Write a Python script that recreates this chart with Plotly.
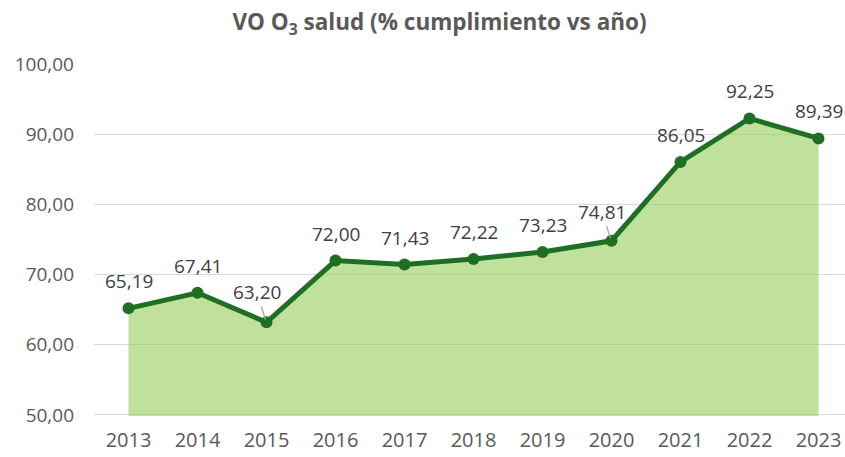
import plotly.graph_objects as go

years = [2013, 2014, 2015, 2016, 2017, 2018, 2019, 2020, 2021, 2022, 2023]
values = [65.19, 67.41, 63.20, 72.00, 71.43, 72.22, 73.23, 74.81, 86.05, 92.25, 89.39]
y_ticks = [50, 60, 70, 80, 90, 100]

title_text = "VO O<sub>3</sub> salud (% cumplimiento vs año)"

LINE = "#1e6e24"
FILL = "rgba(150,205,90,0.6)"
TXT = "#595959"
LBL = "#404040"
FONT = "Open Sans"

# label placement (pixel offsets) for points whose label uses a leader line
leader = {2015: (-10, -30), 2020: (-10, -29)}

fig = go.Figure()
fig.add_trace(go.Scatter(
    x=years, y=values, mode="lines+markers",
    line=dict(color=LINE, width=5),
    marker=dict(color=LINE, size=12),
    fill="tozeroy", fillcolor=FILL,
    hoverinfo="skip", showlegend=False,
))

for yr, v in zip(years, values):
    txt = f"{v:.2f}".replace(".", ",")
    if yr in leader:
        ax, ay = leader[yr]
        fig.add_annotation(x=yr, y=v, text=txt, showarrow=True,
                           ax=ax, ay=ay, arrowhead=0, arrowwidth=1.3,
                           arrowcolor="#a6a6a6", standoff=3, startstandoff=0,
                           font=dict(family=FONT, size=19, color=LBL))
    else:
        fig.add_annotation(x=yr, y=v, text=txt, showarrow=False,
                           yshift=27, font=dict(family=FONT, size=19, color=LBL))

fig.update_layout(
    width=845, height=457,
    margin=dict(l=94, r=0, t=64, b=41, autoexpand=False),
    paper_bgcolor="white", plot_bgcolor="white",
    separators=",.",
    font=dict(family=FONT, color=TXT, size=19),
    title=dict(text=title_text, x=439.5 / 845, xanchor="center", xref="container",
               y=1 - 22 / 457, yanchor="middle",
               font=dict(family=FONT, size=22.5, color=TXT, weight="bold")),
)
fig.update_xaxes(range=[2012.5, 2012.5 + 751 / 69], tickmode="array", tickvals=years,
                 ticktext=[str(y) for y in years], showgrid=False, zeroline=False,
                 showline=False, ticks="", automargin=False, ticklabelstandoff=10,
                 tickfont=dict(size=20, color=TXT))
fig.update_yaxes(range=[49.85, 100], tickvals=y_ticks, tickformat=".2f",
                 showgrid=True, gridcolor="#d9d9d9", gridwidth=1.3, zeroline=False,
                 showline=False, ticks="", ticklabelstandoff=19, automargin=False,
                 tickfont=dict(size=19, color=TXT))

fig.write_html("out.html", config={"displayModeBar": False},
               post_script="document.body.style.margin='0';document.body.style.overflow='hidden';")
